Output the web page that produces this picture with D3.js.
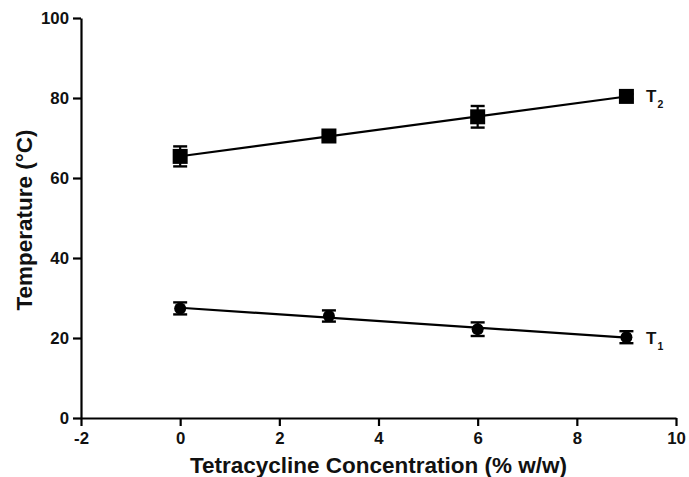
<!DOCTYPE html>
<html>
<head>
<meta charset="utf-8">
<script src="https://cdn.jsdelivr.net/npm/d3@7"></script>
<style>
  html, body { margin: 0; padding: 0; background: #fff; }
  svg { display: block; font-family: "Liberation Sans", Arial, sans-serif; }
</style>
</head>
<body>
<svg id="chart" width="689" height="477"></svg>
<script>
// Tetracycline concentration (% w/w)
const concentrations = [0, 3, 6, 9];
// Transition temperatures (°C) with standard deviations
const t2Values = [65.4, 70.5, 75.3, 80.4];
const t2Errors = [2.5, 0.9, 2.7, 0.6];
const t1Values = [27.4, 25.5, 22.2, 20.2];
const t1Errors = [1.5, 1.4, 1.7, 1.5];

const xTicks = [-2, 0, 2, 4, 6, 8, 10];
const yTicks = [0, 20, 40, 60, 80, 100];

const svg = d3.select("#chart");
const margin = { left: 81, top: 18, right: 13, bottom: 59 };
const width = 689, height = 477;
const ink = "#111";

const x = d3.scaleLinear().domain([-2, 10]).range([margin.left, width - margin.right]);
const y = d3.scaleLinear().domain([0, 100]).range([height - margin.bottom, margin.top]);

const fmt = d => String(d); // plain hyphen for negatives

// axes
const xAxis = svg.append("g")
  .attr("transform", `translate(0,${y(0)})`)
  .call(d3.axisBottom(x).tickValues(xTicks).tickFormat(fmt).tickSize(8).tickPadding(4).tickSizeOuter(0));
const yAxis = svg.append("g")
  .attr("transform", `translate(${x(-2)},0)`)
  .call(d3.axisLeft(y).tickValues(yTicks).tickFormat(fmt).tickSize(8).tickPadding(4).tickSizeOuter(0));

[xAxis, yAxis].forEach(g => {
  g.select(".domain").attr("stroke", "#000").attr("stroke-width", 2.2);
  g.selectAll(".tick line").attr("stroke", "#000").attr("stroke-width", 2.2);
  g.selectAll(".tick text")
    .attr("fill", ink)
    .style("font-size", "16.8px")
    .style("font-weight", "bold")
    .style("font-family", "'Liberation Sans', Arial, sans-serif");
});
xAxis.selectAll(".tick text").attr("dy", "0.85em");

// axis titles
svg.append("text")
  .attr("x", x(4)).attr("y", 473)
  .attr("text-anchor", "middle")
  .style("font-size", "22.5px").style("font-weight", "bold").attr("fill", ink)
  .text("Tetracycline Concentration (% w/w)");
svg.append("text")
  .attr("transform", `translate(32,${y(49.5)}) rotate(-90)`)
  .attr("text-anchor", "middle")
  .style("font-size", "22.5px").style("font-weight", "bold").attr("fill", ink)
  .text("Temperature (°C)");

// least-squares fit through each series
function fit(xs, ys) {
  const mx = d3.mean(xs), my = d3.mean(ys);
  const b = d3.sum(xs, (v, i) => (v - mx) * (ys[i] - my)) / d3.sum(xs, v => (v - mx) ** 2);
  return v => my + b * (v - mx);
}

function drawSeries(values, errors, shape) {
  const f = fit(concentrations, values);
  const x0 = d3.min(concentrations), x1 = d3.max(concentrations);
  svg.append("line")
    .attr("x1", x(x0)).attr("y1", y(f(x0)))
    .attr("x2", x(x1)).attr("y2", y(f(x1)))
    .attr("stroke", "#000").attr("stroke-width", 2.2);

  const g = svg.append("g");
  concentrations.forEach((c, i) => {
    const cx = x(c), cy = y(values[i]);
    const top = y(values[i] + errors[i]), bot = y(values[i] - errors[i]);
    g.append("line").attr("x1", cx).attr("x2", cx).attr("y1", top).attr("y2", bot)
      .attr("stroke", "#000").attr("stroke-width", 2.2);
    [top, bot].forEach(yy => g.append("line")
      .attr("x1", cx - 7).attr("x2", cx + 7).attr("y1", yy).attr("y2", yy)
      .attr("stroke", "#000").attr("stroke-width", 2.4));
    if (shape === "square") {
      g.append("rect").attr("x", cx - 7.5).attr("y", cy - 7.5).attr("width", 15).attr("height", 15)
        .attr("fill", "#000");
    } else {
      g.append("circle").attr("cx", cx).attr("cy", cy).attr("r", 6).attr("fill", "#000");
    }
  });
  return f;
}

drawSeries(t2Values, t2Errors, "square");
drawSeries(t1Values, t1Errors, "circle");

// series labels
function seriesLabel(px, py, sub) {
  const t = svg.append("text").attr("x", px).attr("y", py)
    .style("font-size", "17px").style("font-weight", "bold").attr("fill", ink);
  t.append("tspan").text("T");
  t.append("tspan").attr("dx", 1).attr("dy", 6).style("font-size", "10.5px").text(sub);
}
seriesLabel(646, 102, "2");
seriesLabel(646, 343.5, "1");
</script>
</body>
</html>
